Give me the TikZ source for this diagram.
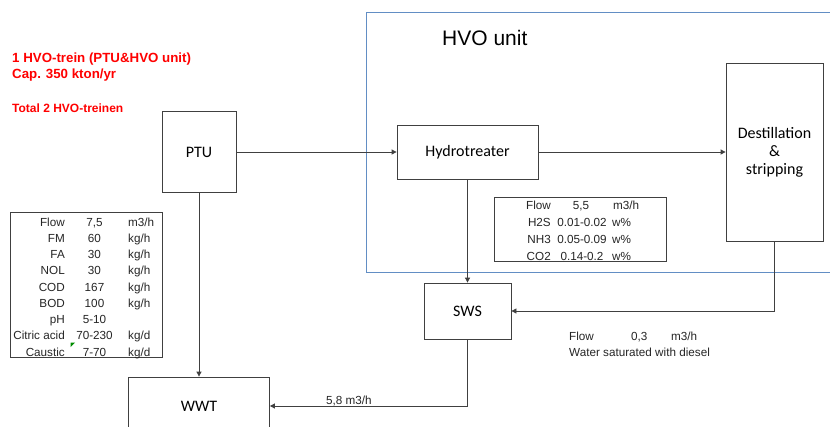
\documentclass[tikz,border=0pt]{standalone}
\usepackage{fontspec}
\setmainfont{Liberation Sans}
\newfontfamily\boxfont{Carlito}
\usetikzlibrary{arrows.meta,positioning}
\definecolor{hvoblue}{RGB}{98,142,196}
\definecolor{linegrey}{RGB}{64,64,64}
\definecolor{flagred}{RGB}{255,0,0}
\newcommand{\comma}{,}

\begin{document}
\begin{tikzpicture}[x=1pt,y=-1pt,
    unit/.style={draw=linegrey,line width=0.8pt,fill=white,align=center,inner sep=0pt,
      font=\boxfont\fontsize{16}{18}\selectfont},
    stream/.style={draw=linegrey,line width=0.8pt,-{Triangle[length=5pt,width=5pt]}},
    table/.style={draw=linegrey,line width=0.8pt,inner sep=0pt},
    cell/.style={inner sep=0pt,text=black!85,font=\fontsize{11.7}{14}\selectfont,
      text height=8.4pt,text depth=0pt},
    note/.style={inner sep=0pt,anchor=west,text=flagred,
      font=\bfseries\fontsize{13.3}{16}\selectfont,text height=9.5pt,text depth=0pt}]
  \useasboundingbox (0,0) rectangle (830,426);
  \clip (0,0) rectangle (830,426);
  \fill[white] (0,0) rectangle (830,426);

  % HVO unit frame
  \draw[hvoblue,line width=0.9pt] (366,12) rectangle (850,272);
  \node[inner sep=0pt,anchor=west,font=\fontsize{21}{25}\selectfont,
    text height=15pt,text depth=0pt] (hvo) at (442,38) {HVO unit};

  % notes
  \node[note] (train) at (12,58) {1 HVO-trein (PTU\&HVO unit)};
  \node[note] (cap) at (12,74) {Cap. 350 kton/yr};
  \node[note,font=\bfseries\fontsize{12}{14}\selectfont,text height=8.6pt] (total) at (12,108) {Total 2 HVO-treinen};

  % units
  \node[unit,minimum width=74pt,minimum height=81pt] (ptu) at (199,152) {PTU};
  \node[unit,minimum width=141pt,minimum height=54pt] (hydro) at (467.5,152) {Hydrotreater};
  \node[unit,minimum width=97pt,minimum height=178pt] (dest) at (774.5,152) {Destillation\\\&\\stripping};
  \node[unit,minimum width=87pt,minimum height=56pt] (sws) at (467.5,311) {SWS};
  \node[unit,minimum width=141pt,minimum height=58pt] (wwt) at (199,406) {WWT};

  % streams
  \draw[stream] (ptu.east) -- (hydro.west);
  \draw[stream] (hydro.east) -- (dest.west);
  \draw[stream] (hydro.south) -- (sws.north);
  \draw[stream] (dest.south) |- (sws.east);
  \draw[stream] (sws.south) |- (wwt.east) node[cell,pos=0.8,above=1pt] (wwtflow) {5\comma8 m3/h};
  \draw[stream] (ptu.south) -- (wwt.north);

  % PTU effluent
  \node[table,minimum width=152pt,minimum height=145pt] (feed) at (86,284.5) {};
  \foreach \p/\v/\u/\y [count=\i] in {Flow/7\comma5/{m3/h}/222,FM/60/{kg/h}/238,FA/30/{kg/h}/254,
      NOL/30/{kg/h}/270.5,COD/167/{kg/h}/287,BOD/100/{kg/h}/303,pH/5-10/{}/319,
      Citric acid/70-230/{kg/d}/335.5,Caustic/7-70/{kg/d}/352} {
    \node[cell,anchor=east] (feedp\i) at (65,\y) {\p};
    \node[cell] (feedv\i) at (94.5,\y) {\v};
    \node[cell,anchor=west] (feedu\i) at (128,\y) {\u};
  }
  \fill[green!55!black] (70.5,342.5) -- (75,342.5) -- (70.5,347) -- cycle;

  % sour water
  \node[table,minimum width=172pt,minimum height=64pt] (gas) at (580.5,229) {};
  \node[cell,anchor=west] (gasp0) at (526,205) {Flow};
  \node[cell] (gasv0) at (581,205) {5\comma5};
  \node[cell,anchor=west] (gasu0) at (613,205) {m3/h};
  \foreach \p/\v/\y [count=\i] in {H2S/0.01-0.02/222,NH3/0.05-0.09/239,CO2/0.14-0.2/256} {
    \node[cell,anchor=east] (gasp\i) at (551,\y) {\p};
    \node[cell] (gasv\i) at (582,\y) {\v};
    \node[cell,anchor=west] (gasu\i) at (612,\y) {w\%};
  }

  % return water
  \node[cell,anchor=west] (swsp) at (569,336) {Flow};
  \node[cell,anchor=west] (swsv) at (631,336) {0\comma3};
  \node[cell,anchor=west] (swsu) at (671,336) {m3/h};
  \node[cell,anchor=west] (swsnote) at (569,352) {Water saturated with diesel};
\end{tikzpicture}
\end{document}
